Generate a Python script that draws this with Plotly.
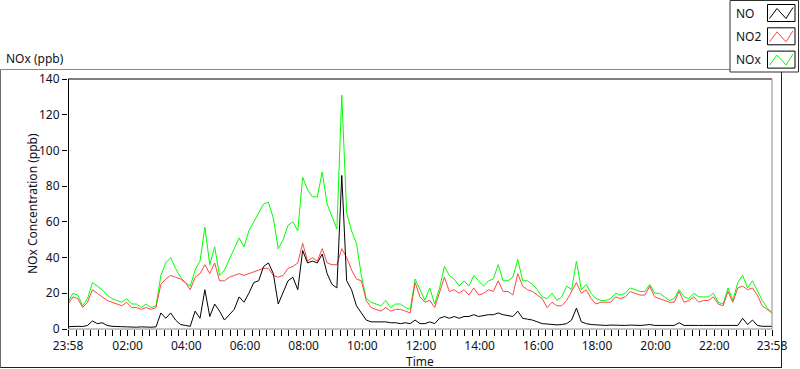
import pandas as pd
import plotly.graph_objects as go

# ---- data (10-minute readings, 23:58 -> 23:58 next day) ----
start_time = "2013-01-01 23:58"
step_minutes = 10

no_ppb = [1.3, 1.5, 1.5, 1.4, 2, 4.5, 3, 3.5, 2, 1.5, 1.2, 1.3, 1.2, 1, 1, 1.2, 1, 1, 1.2, 9,
          6, 9, 5, 2.5, 2, 1.5, 10, 6, 22, 7, 14, 10, 5, 8, 11, 18, 15, 20, 26, 27,
          35, 37, 31, 14, 20, 27, 29, 22, 44, 37, 38, 37, 42, 31, 25, 23, 86, 27, 22, 13,
          9, 5, 4, 4, 4, 4, 3.5, 3.5, 3, 3.5, 3, 5, 3, 3, 4, 3, 6, 7, 6, 7,
          6, 7, 7, 8, 7, 7.5, 8, 8, 9, 8, 7.5, 7, 10, 6, 5.5, 5, 4, 3, 2.8, 2.5,
          2.3, 2.5, 3, 5, 11.7, 4, 3, 2.5, 2.2, 2.2, 2, 2.2, 2, 2, 2, 2.2, 2, 2, 2.2, 2.5,
          2, 2, 2, 1.8, 2, 3.5, 2, 2, 1.8, 2, 2, 1.8, 2, 2, 1.8, 2, 2, 2, 6, 2.5,
          5, 2, 1.5, 1.5, 1.5]

no2_ppb = [14, 18, 17, 12, 15, 22, 20, 18, 16, 15, 14, 13, 15, 12, 12, 11, 12, 11, 12, 25,
           28, 30, 29, 28, 26, 22, 29, 31, 36, 31, 37, 27, 27, 29, 30, 31, 30, 31, 32, 33,
           34, 34, 30, 29, 30, 34, 35, 37, 48, 38, 40, 38, 45, 37, 36, 36, 45, 40, 33, 28,
           27, 16, 12, 11, 10, 12, 10, 11, 11, 10, 9, 26, 18, 15, 16, 12, 20, 29, 21, 22,
           20, 22, 19, 23, 19, 20, 22, 21, 27, 21, 21, 19, 31, 24, 22, 21, 19, 17, 12, 15,
           13, 13, 16, 21, 26, 20, 22, 17, 14, 15, 15, 15, 18, 17, 18, 21, 20, 19, 19, 24,
           18, 17, 16, 15, 15, 21, 15, 16, 18, 15, 16, 16, 18, 14, 13, 21, 15, 23, 24, 22,
           23, 19, 13, 11, 9]

nox_ppb = [15, 20, 19, 13, 17, 26, 24, 22, 19, 17, 16, 15, 17, 14, 14, 12, 14, 12, 13, 30,
           37, 40, 34, 29, 26, 24, 33, 38, 57, 36, 46, 30, 33, 39, 46, 51, 46, 55, 60, 65,
           70, 71, 62, 45, 50, 58, 60, 55, 85, 78, 74, 74, 88, 70, 63, 56, 131, 65, 55, 48,
           30, 17, 15, 14, 13, 16, 12, 14, 14, 12, 11, 28, 22, 16, 23, 14, 23, 35, 30, 28,
           24, 27, 24, 30, 27, 24, 27, 28, 36, 27, 27, 29, 39, 27, 27, 25, 22, 18, 17, 20,
           16, 18, 24, 22, 38, 22, 25, 20, 17, 16, 16, 17, 20, 19, 20, 23, 22, 21, 21, 25,
           20, 20, 18, 16, 17, 22, 18, 17, 20, 18, 18, 18, 20, 15, 14, 23, 16, 26, 30, 23,
           27, 21, 16, 12, 9]

tick_labels = ["23:58", "02:00", "04:00", "06:00", "08:00", "10:00", "12:00",
               "14:00", "16:00", "18:00", "20:00", "22:00", "23:58"]
y_ticks = [0, 20, 40, 60, 80, 100, 120, 140]

series_names = ["NO", "NO2", "NOx"]
series_colors = ["#000000", "#FF4646", "#00FF00"]

# ---- build ----
times = pd.date_range(start_time, periods=len(no_ppb), freq=f"{step_minutes}min")
t0, t1 = times[0], times[-1]
day1 = pd.Timestamp("2013-01-02")
tick_vals = [t0] + [day1 + pd.Timedelta(hours=h) for h in range(2, 23, 2)] + [t1]
minor_vals = [day1 + pd.Timedelta(minutes=15 * k) for k in range(0, 96)]

FONT = "Noto Sans"
TXT = "#111122"

# plot-area pixel box
PL, PR, PT, PB = 68, 772, 79, 329
W, H = 800, 369


def fx(px):
    return (px - PL) / (PR - PL)


def fy(py):
    return (PB - py) / (PB - PT)


fig = go.Figure()
for vals, name, col in [(nox_ppb, "NOx", series_colors[2]),
                        (no2_ppb, "NO2", series_colors[1]),
                        (no_ppb, "NO", series_colors[0])]:
    fig.add_trace(go.Scatter(x=times, y=vals, mode="lines", name=name,
                             line=dict(color=col, width=1), showlegend=False,
                             hoverinfo="skip"))

shapes = []


def line(x0, y0, x1, y1, color, width=1):
    shapes.append(dict(type="line", xref="paper", yref="paper",
                       x0=fx(x0), y0=fy(y0), x1=fx(x1), y1=fy(y1),
                       line=dict(color=color, width=width), layer="above"))


# outer frame
line(0.5, 69.5, 730, 69.5, "#8a8a8a")
line(0.5, 69.5, 0.5, 368, "#6a6a6a")
line(0.5, 367.5, 781.5, 367.5, "#202020")
line(781.5, 72, 781.5, 368, "#202020")
# plot-area border
line(PL, PT, PR, PT, "#000000")
line(PL + 0.5, PT, PL + 0.5, PB, "#000000")
line(PR, PT, PR, PB, "#8a8a8a")
line(PL, PB, PR, PB, "#8a8a8a")

# legend box
shapes.append(dict(type="rect", xref="paper", yref="paper",
                   x0=fx(730), y0=fy(0.5), x1=fx(798.5), y1=fy(72),
                   line=dict(color="#303030", width=1), fillcolor="white", layer="above"))
annotations = []
for k, (name, col) in enumerate(zip(series_names, series_colors)):
    dy = k * 23.3
    shapes.append(dict(type="rect", xref="paper", yref="paper",
                       x0=fx(767.5), y0=fy(4.5 + dy), x1=fx(795), y1=fy(21.5 + dy),
                       line=dict(color="#000000", width=1), fillcolor="white", layer="above"))
    pts = [(769.5, 18.5 + dy), (777, 8.5 + dy), (786, 18.5 + dy), (793, 7.5 + dy)]
    path = "M " + " L ".join(f"{fx(a)},{fy(b)}" for a, b in pts)
    shapes.append(dict(type="path", xref="paper", yref="paper", path=path,
                       line=dict(color=col, width=1), layer="above"))
    annotations.append(dict(xref="paper", yref="paper", x=fx(734), y=fy(13 + dy),
                            text=name, showarrow=False, xanchor="left", yanchor="middle",
                            font=dict(family=FONT, size=12, color=TXT)))

annotations += [
    dict(xref="paper", yref="paper", x=fx(4), y=fy(59), text="NOx (ppb)", showarrow=False,
         xanchor="left", yanchor="middle", font=dict(family=FONT, size=12, color=TXT)),
    dict(xref="paper", yref="paper", x=fx(32), y=fy(204), text="NOx Concentration (ppb)",
         textangle=-90, showarrow=False, xanchor="center", yanchor="middle",
         font=dict(family=FONT, size=12, color=TXT)),
    dict(xref="paper", yref="paper", x=fx(420), y=fy(361), text="Time", showarrow=False,
         xanchor="center", yanchor="middle", font=dict(family=FONT, size=12, color=TXT)),
]

fig.update_layout(
    width=W, height=H, autosize=False,
    margin=dict(l=PL, r=W - PR, t=PT, b=H - PB, pad=0),
    paper_bgcolor="white", plot_bgcolor="white",
    shapes=shapes, annotations=annotations, showlegend=False,
    xaxis=dict(range=[t0, t1], tickmode="array", tickvals=tick_vals, ticktext=tick_labels,
               ticks="outside", ticklen=6, tickcolor="#000000", tickwidth=1,
               showgrid=False, zeroline=False, showline=False,
               tickfont=dict(family=FONT, size=12, color=TXT),
               minor=dict(ticks="outside", ticklen=6, tickcolor="#000000", tickwidth=1,
                          tickmode="array", tickvals=minor_vals, showgrid=False)),
    yaxis=dict(range=[0, 140], tickmode="array", tickvals=y_ticks,
               ticks="outside", ticklen=5, tickcolor="#000000",
               showgrid=False, zeroline=False, showline=False,
               tickfont=dict(family=FONT, size=12, color=TXT)),
)

fig.write_html("out.html", config={"displayModeBar": False, "staticPlot": True},
               post_script="document.body.style.margin='0';document.body.style.padding='0';")
